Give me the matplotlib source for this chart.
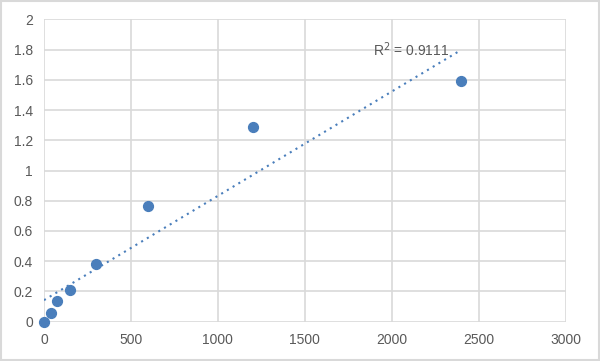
import numpy as np
import matplotlib
matplotlib.use('Agg')
import matplotlib.pyplot as plt

conc = [0, 37.5, 75, 150, 300, 600, 1200, 2400]
od = [0.0, 0.06, 0.135, 0.21, 0.38, 0.765, 1.285, 1.59]
x_ticks = [0, 500, 1000, 1500, 2000, 2500, 3000]
y_ticks = [0, 0.2, 0.4, 0.6, 0.8, 1, 1.2, 1.4, 1.6, 1.8, 2]
r2_label = 'R$^2$ = 0.9111'

plt.rcParams['font.family'] = ['Liberation Sans', 'DejaVu Sans']

fig = plt.figure(figsize=(6, 3.61), dpi=100)
ax = fig.add_axes([44 / 600, 1 - 321.7 / 361, (565.5 - 44) / 600, (321.7 - 19.3) / 361])

grid_c = '#d9d9d9'
ax.set_xlim(0, 3000)
ax.set_ylim(0, 2)
ax.set_xticks(x_ticks)
ax.set_yticks(y_ticks)
ax.set_yticklabels(['0', '0.2', '0.4', '0.6', '0.8', '1', '1.2', '1.4', '1.6', '1.8', '2'])
ax.grid(True, color=grid_c, linewidth=1.2)
ax.set_axisbelow(True)
for s in ax.spines.values():
    s.set_visible(False)
ax.tick_params(length=0, colors='#595959', labelsize=10, pad=8)

# linear trendline
slope, icpt = np.polyfit(conc, od, 1)
xs = np.array([0, max(conc)])
ax.plot(xs, slope * xs + icpt, linestyle=(0, (1, 2.2)), color='#4a7ebb', linewidth=1.5, zorder=2)

ax.scatter(conc, od, s=50, color='#4a7ebb', zorder=3, clip_on=False)

ax.text(1890, 1.80, r2_label, fontsize=10, color='#595959', ha='left', va='center')

# outer border
fig.patches.append(plt.Rectangle((0.002, 0.003), 0.996, 0.994, transform=fig.transFigure,
                                 fill=False, edgecolor='#d9d9d9', linewidth=1.5))

fig.savefig('out.png', dpi=100)
